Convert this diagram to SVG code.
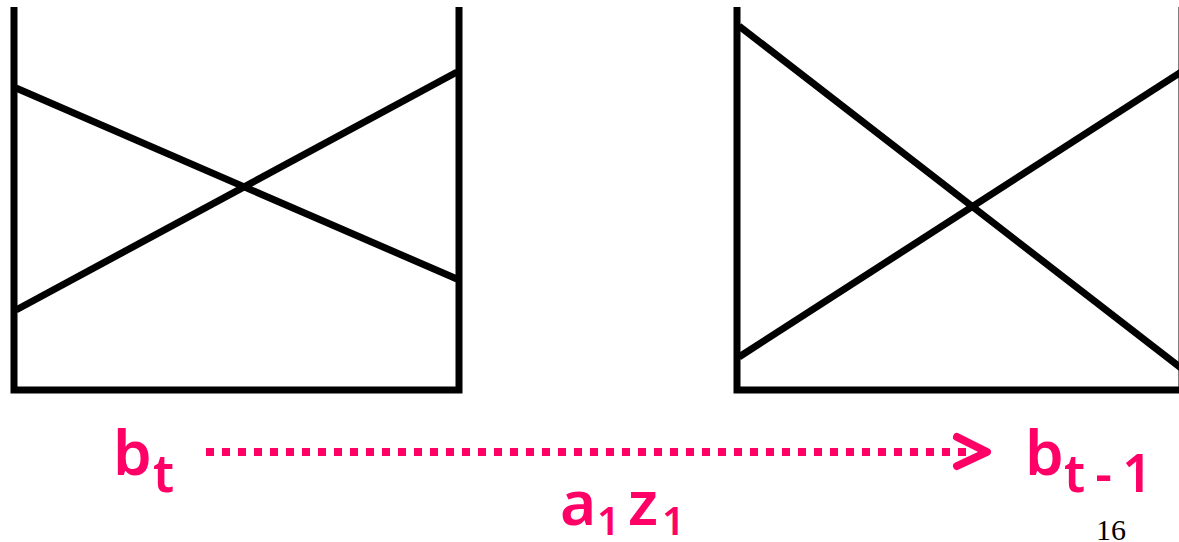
<svg xmlns="http://www.w3.org/2000/svg" width="1179" height="542" viewBox="0 0 1179 542">
<style>
.box{fill:none;stroke:#000;stroke-width:7;stroke-linecap:butt;stroke-linejoin:miter}
.ln{stroke:#000;stroke-width:7;fill:none}
.lab{fill:#FF0066;font-family:"Noto Sans","DejaVu Sans",sans-serif;font-weight:600}
.big{font-size:62px}
.sub{font-size:52px}
.dig{font-size:40px}
.dots{stroke:#FF0066;stroke-width:8;stroke-dasharray:8 8;fill:none}
.head{stroke:#FF0066;stroke-width:8;stroke-linecap:round;stroke-linejoin:round;fill:none}
</style>
<rect width="1179" height="542" fill="#fff"/>
<g id="box-left">
<path class="box" d="M14,7 V390 H459 V7"/>
<line class="ln" x1="16" y1="88" x2="457" y2="279"/>
<line class="ln" x1="16" y1="310" x2="457" y2="72"/>
</g>
<g id="box-right">
<path class="box" d="M737,7 V390 H1182 V7"/>
<line class="ln" x1="739" y1="26" x2="1181" y2="368"/>
<line class="ln" x1="739" y1="357" x2="1181" y2="72"/>
</g>
<g id="label-bt">
<text class="lab big" x="113" y="475">b</text>
<text class="lab sub" x="153" y="492">t</text>
</g>
<g id="label-bt1">
<text class="lab big" x="1025" y="475">b</text>
<text class="lab sub" x="1064" y="492" textLength="88" lengthAdjust="spacing">t-1</text>
</g>
<g id="connectors">
<line class="dots" x1="206" y1="452" x2="970" y2="452"/>
<polyline class="head" points="957,437 987,452 957,466"/>
</g>
<g id="label-a1z1">
<text class="lab big" x="560" y="525">a</text>
<text class="lab dig" x="597" y="535">1</text>
<text class="lab big" x="628" y="525">z</text>
<text class="lab dig" x="662" y="535">1</text>
</g>
<text x="1096" y="540" font-family="Liberation Serif,serif" font-size="30" fill="#000">16</text>
</svg>
